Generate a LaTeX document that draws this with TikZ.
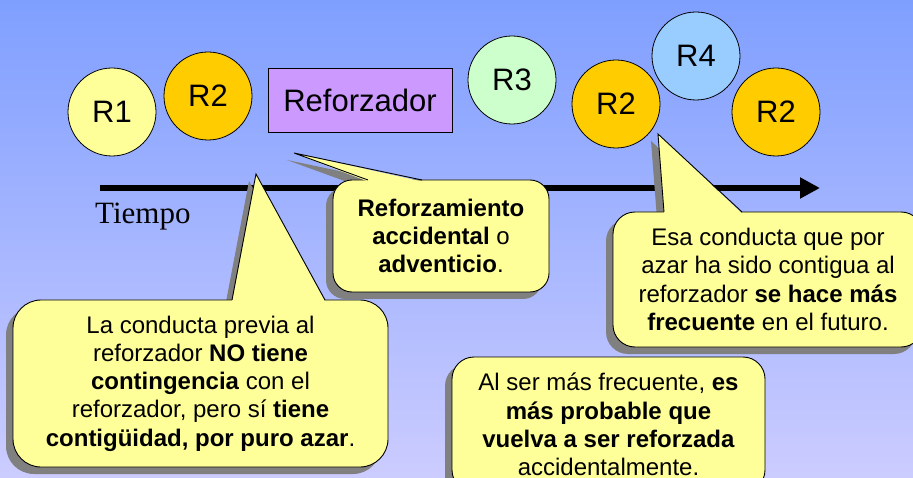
\documentclass[tikz,border=0pt]{standalone}
\usepackage{fontspec}
\setmainfont{Liberation Sans}
\newfontfamily\serifrm{Liberation Serif}
\usepackage{tikz}
\usetikzlibrary{arrows.meta,positioning,shadows}
\definecolor{SkyTop}{HTML}{7F9FFF}
\definecolor{SkyBottom}{HTML}{CCCCFF}
\definecolor{Pale}{HTML}{FFFF99}
\definecolor{Gold}{HTML}{FFCC00}
\definecolor{Mint}{HTML}{CCFFCC}
\definecolor{Sky}{HTML}{99CCFF}
\definecolor{Lilac}{HTML}{CC99FF}
\definecolor{Shade}{HTML}{808080}
\definecolor{Note}{HTML}{FFFF99}

\begin{document}
\begin{tikzpicture}[
 x=1pt,y=-1pt,
 r/.style={circle,draw=black,line width=0.8pt,minimum size=88pt,inner sep=0pt,font=\fontsize{31}{31}\selectfont},
 n/.style={draw=black,line width=0.9pt,fill=Note,rounded corners=#1,inner sep=0pt,align=center,
  font=\fontsize{24}{28.3}\selectfont,general shadow={fill=Shade,shadow xshift=-7pt,shadow yshift=-7pt}},
 sh/.style={fill=Shade},
 p/.style={draw=black,line width=0.9pt,line join=miter}
]
\useasboundingbox (0,0) rectangle (913,478);
\clip (0,0) rectangle (913,478);
\shade[top color=SkyTop,bottom color=SkyBottom] (0,0) rectangle (913,478);

\node[r,fill=Pale] (r1) at (112,112) {R1};
\node[r,fill=Gold] (r2a) at (208,96) {R2};
\node[draw=black,line width=0.8pt,fill=Lilac,minimum width=184pt,minimum height=64pt,inner sep=0pt,
 font=\fontsize{31}{31}\selectfont] (reforzador) at (360,100) {Reforzador};
\node[r,fill=Mint] (r3) at (512,80) {R3};
\node[r,fill=Gold] (r2b) at (616,104) {R2};
\node[r,fill=Sky] (r4) at (696,56) {R4};
\node[r,fill=Gold] (r2c) at (776,112) {R2};

\coordinate (t0) at (100,188);
\coordinate (t1) at (820,188);
\draw[line width=6.8pt,-{Triangle[length=20pt,width=20pt]}] (t0) -- (t1);
\node[anchor=base west,inner sep=0pt,font=\serifrm\fontsize{31}{31}\selectfont] (tiempo) at (95,224) {Tiempo};

\coordinate (noTip) at (256,174);
\coordinate (noL) at (232,300);
\coordinate (noR) at (325,300);
\fill[sh] ([shift={(-7,7)}]noTip) -- ([shift={(-7,7)}]noL) -- ([shift={(-7,7)}]noR) -- cycle;
\node[n=28pt,minimum width=375pt,minimum height=167pt] (cNo) at (200.5,383.5)
 {La conducta previa al\\ reforzador \textbf{NO tiene}\\ \textbf{contingencia} con el\\
  reforzador, pero sí \textbf{tiene}\\ \textbf{contigüidad, por puro azar}.};
\fill[Note] (noTip) -- ([yshift=-1.5pt]noL) -- ([yshift=-1.5pt]noR) -- cycle;
\draw[p] (noL) -- (noTip) -- (noR);

\coordinate (midTip) at (294,153);
\coordinate (midL) at (368,180);
\coordinate (midR) at (422,180);
\fill[sh] ([shift={(-7,7)}]midTip) -- ([shift={(-7,7)}]midL) -- ([shift={(-7,7)}]midR) -- cycle;
\node[n=19pt,minimum width=216pt,minimum height=112pt] (cMid) at (441,236)
 {\textbf{Reforzamiento}\\ \textbf{accidental} o\\ \textbf{adventicio}.};
\fill[Note] (midTip) -- ([yshift=-1.5pt]midL) -- ([yshift=-1.5pt]midR) -- cycle;
\draw[p] (midL) -- (midTip) -- (midR);

\coordinate (esaTip) at (658,134);
\coordinate (esaL) at (664,212);
\coordinate (esaR) at (742,212);
\fill[sh] ([shift={(-7,7)}]esaTip) -- ([shift={(-7,7)}]esaL) -- ([shift={(-7,7)}]esaR) -- cycle;
\node[n=22pt,minimum width=310pt,minimum height=135pt] (cEsa) at (768,279.5)
 {Esa conducta que por\\ azar ha sido contigua al\\ reforzador \textbf{se hace más}\\
  \textbf{frecuente} en el futuro.};
\fill[Note] (esaTip) -- ([yshift=-1.5pt]esaL) -- ([yshift=-1.5pt]esaR) -- cycle;
\draw[p] (esaL) -- (esaTip) -- (esaR);

\node[n=22pt,minimum width=313pt,minimum height=135pt] (cAl) at (608.5,424.5)
 {Al ser más frecuente, \textbf{es}\\ \textbf{más probable que}\\ \textbf{vuelva a ser reforzada}\\
  accidentalmente.};
\end{tikzpicture}
\end{document}
